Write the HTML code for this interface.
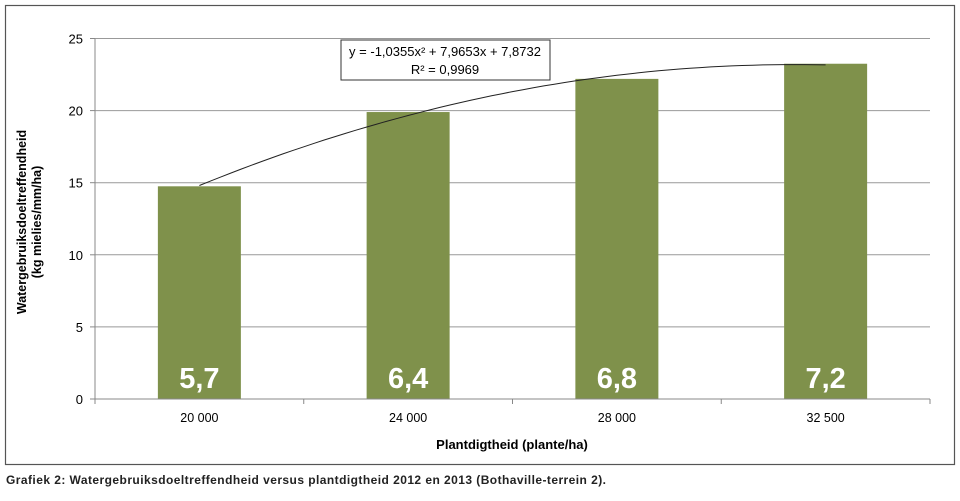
<!DOCTYPE html>
<html><head><meta charset="utf-8"><style>
body{margin:0;background:#fff;width:960px;height:496px;overflow:hidden;font-family:"Liberation Sans",sans-serif}
</style></head><body>
<svg width="960" height="496" xmlns="http://www.w3.org/2000/svg">
<rect x="5.5" y="5.5" width="949" height="459" fill="#fff" stroke="#555" stroke-width="1.2"/>
<g id="grid"></g>
<g id="bars"></g>
<g id="trend"></g>
<g id="axes"></g>
<rect x="341" y="40" width="209" height="40" fill="#fff" stroke="#333"/>
<text x="445" y="56" font-size="13" text-anchor="middle">y = -1,0355x² + 7,9653x + 7,8732</text>
<text x="445" y="74" font-size="13" text-anchor="middle">R² = 0,9969</text>
<text transform="translate(26,222) rotate(-90)" font-size="12.5" font-weight="bold" text-anchor="middle"><tspan x="0" dy="0">Watergebruiksdoeltreffendheid</tspan><tspan x="0" dy="15">(kg mielies/mm/ha)</tspan></text>
<text x="512" y="449" font-size="13" font-weight="bold" text-anchor="middle">Plantdigtheid (plante/ha)</text>
<text x="6" y="484" font-size="12" font-weight="bold" fill="#222" textLength="600">Grafiek 2: Watergebruiksdoeltreffendheid versus plantdigtheid 2012 en 2013 (Bothaville-terrein 2).</text>
</svg>
<script>
const categories=["20 000","24 000","28 000","32 500"];
const values=[14.75,19.9,22.2,23.25];
const barLabels=["5,7","6,4","6,8","7,2"];
const yTicks=[0,5,10,15,20,25];
const trendCoef=[-1.0355,7.9653,7.8732];
const NS="http://www.w3.org/2000/svg";
const X0=95,X1=930,Y0=399,Ymax=25,Ytop=38.5;
const y=v=>Y0-(v/Ymax)*(Y0-Ytop);
const bw=(X1-X0)/categories.length;
const xc=i=>X0+bw*(i+0.5);
function mk(t,a,p){const e=document.createElementNS(NS,t);for(const k in a)e.setAttribute(k,a[k]);p.appendChild(e);return e;}
const grid=document.getElementById('grid'),bars=document.getElementById('bars'),axes=document.getElementById('axes'),trend=document.getElementById('trend');
yTicks.forEach(t=>{
 if(t>0){const l=mk('line',{x1:X0,x2:X1,y1:y(t),y2:y(t),stroke:'#999','stroke-width':1},grid);
 
 }
 const tk=mk('line',{x1:X0-5,x2:X0,y1:y(t),y2:y(t),stroke:'#888'},axes);
 
 
 const tx=mk('text',{x:X0-12,y:y(t)+5,'font-size':13,'text-anchor':'end'},axes);tx.textContent=t;
 
 
});
const ya=mk('line',{x1:X0,x2:X0,y1:Ytop,y2:Y0,stroke:'#888'},axes);


const xa=mk('line',{x1:X0,x2:X1,y1:Y0,y2:Y0,stroke:'#888'},axes);


for(let i=0;i<=categories.length;i++){const t=mk('line',{x1:X0+bw*i,x2:X0+bw*i,y1:Y0,y2:Y0+5,stroke:'#888'},axes);
 
 }
categories.forEach((c,i)=>{
 const r=mk('rect',{x:xc(i)-41.5,y:y(values[i]),width:83,height:Y0-y(values[i]),fill:'#7f914b'},bars);
 
 
 const bl=mk('text',{x:xc(i),y:388,'font-size':29,'font-weight':'bold',fill:'#fff','text-anchor':'middle'},bars);bl.textContent=barLabels[i];
 
 
 const cl=mk('text',{x:xc(i),y:422,'font-size':12.5,'text-anchor':'middle'},axes);cl.textContent=c;
 
 
});
let d='';for(let k=0;k<=60;k++){const xv=1+3*k/60;const yv=trendCoef[0]*xv*xv+trendCoef[1]*xv+trendCoef[2];d+=(k?'L':'M')+xc(xv-1).toFixed(1)+','+y(yv).toFixed(1);}
const p=mk('path',{d:d,fill:'none',stroke:'#222','stroke-width':1},trend);


</script>
</body></html>
